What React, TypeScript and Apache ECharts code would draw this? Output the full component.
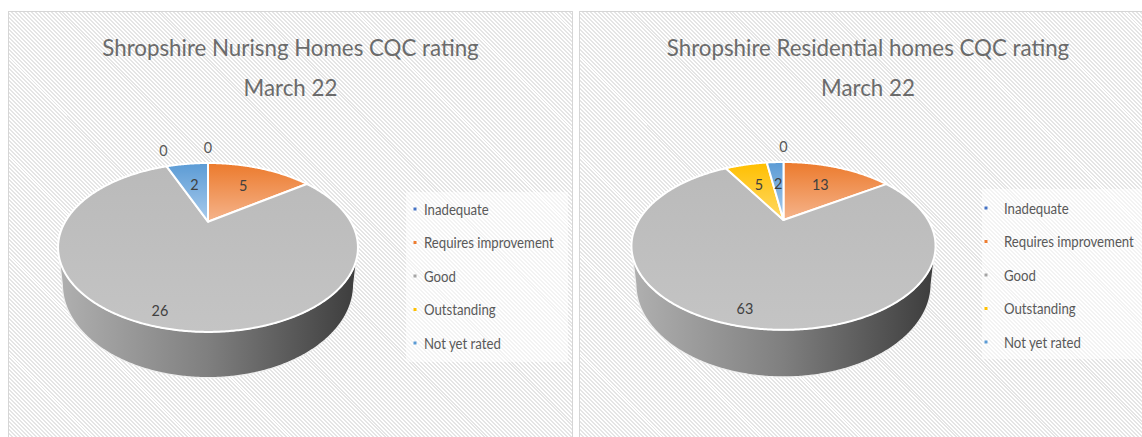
import React, { useEffect, useRef } from 'react';
import * as echarts from 'echarts';

const categories = ['Inadequate', 'Requires improvement', 'Good', 'Outstanding', 'Not yet rated'];
const nursingValues = [0, 5, 26, 0, 2];
const residentialValues = [0, 13, 63, 5, 2];
const nursingTitle = 'Shropshire Nurisng Homes CQC rating\nMarch 22';
const residentialTitle = 'Shropshire Residential homes CQC rating\nMarch 22';

const legendColors = ['#4472c4', '#ed7d31', '#a5a5a5', '#ffc000', '#5b9bd5'];
const topGradients: string[][] = [
  ['#4472c4', '#8faadc'],
  ['#ec7a2c', '#f5b48c'],
  ['#bababa', '#c4c4c4'],
  ['#ffbf00', '#ffd966'],
  ['#5b9bd5', '#a9cbec'],
];

const FONT = "Lato, 'Open Sans', sans-serif";

type Geo = { cx: number; cy: number; A: number; B: number; D: number; k: number; m: number };

const geoLeft: Geo = { cx: 208, cy: 221.7, A: 142.8, B: 76.6, D: 36, k: 0.305, m: 0.027 };
const geoRight: Geo = { cx: 783.5, cy: 220, A: 144.6, B: 75.9, D: 36.8, k: 0.309, m: 0.027 };

function project(g: Geo, r: number, t: number, h: number): number[] {
  const u = r * Math.sin(t);
  const v = r * Math.cos(t);
  const w = 1 + g.k * v + g.m * h;
  return [g.cx + (g.A * u) / w, g.cy + (-g.B * v + g.D * h) / w];
}

function arc(g: Geo, t0: number, t1: number, h: number): number[][] {
  const pts: number[][] = [];
  const n = Math.max(2, Math.ceil(((t1 - t0) * 180) / Math.PI / 0.5));
  for (let i = 0; i <= n; i++) pts.push(project(g, 1, t0 + ((t1 - t0) * i) / n, h));
  return pts;
}

function makeSeries(values: number[], g: Geo) {
  const total = values.reduce((a, b) => a + b, 0);
  const halfW = g.A / Math.sqrt(1 - g.k * g.k);
  const visStart = Math.acos(-g.k);
  const visEnd = 2 * Math.PI - visStart;
  return {
    type: 'custom',
    coordinateSystem: 'none',
    silent: true,
    data: values.map((v, i) => ({ name: categories[i], value: [v] })),
    renderItem: (params: any, api: any) => {
      const i = params.dataIndex;
      const val = api.value(0);
      let start = 0;
      for (let j = 0; j < i; j++) start += values[j];
      const a0 = (start / total) * 2 * Math.PI;
      const a1 = ((start + val) / total) * 2 * Math.PI;
      const children: any[] = [];
      if (val > 0) {
        const t0 = Math.max(a0, visStart);
        const t1 = Math.min(a1, visEnd);
        if (t1 > t0) {
          const pts = arc(g, t0, t1, 0).concat(arc(g, t0, t1, 1).reverse());
          children.push({
            type: 'polygon',
            z2: 1,
            shape: { points: pts },
            style: {
              fill: {
                type: 'linear', x: g.cx - halfW, y: 0, x2: g.cx + halfW, y2: 0, global: true,
                colorStops: [
                  { offset: 0, color: '#b0b0b0' },
                  { offset: 0.5, color: '#7f7f7f' },
                  { offset: 1, color: '#3c3c3c' },
                ],
              },
              stroke: '#eeeeee',
              lineWidth: 1.2,
            },
          });
        }
        const topPts = [project(g, 0, 0, 0)].concat(arc(g, a0, a1, 0));
        children.push({
          type: 'polygon',
          z2: 5,
          shape: { points: topPts },
          style: {
            fill: {
              type: 'linear', x: 0, y: 0, x2: 0, y2: 1,
              colorStops: [
                { offset: 0, color: topGradients[i][0] },
                { offset: 1, color: topGradients[i][1] },
              ],
            },
            stroke: '#ffffff',
            lineWidth: 2,
            lineJoin: 'round',
          },
        });
      }
      const mid = (a0 + a1) / 2;
      let pos: number[];
      if (val === 0) {
        const p = project(g, 1.1, mid, 0);
        pos = [p[0], p[1] - 12];
      } else {
        const r = 0.57 + 0.4 * (val / total);
        pos = project(g, r, mid, 0);
      }
      children.push({
        type: 'text',
        z2: 10,
        x: pos[0],
        y: pos[1],
        scaleX: 0.9,
        style: {
          text: String(val),
          fill: val === 0 ? '#595959' : '#404040',
          fontSize: 16,
          fontFamily: FONT,
          align: 'center',
          verticalAlign: 'middle',
        },
      });
      return { type: 'group', children };
    },
  };
}

function legendGraphics(x: number, textX: number, y0: number, gap: number, bg: number[]) {
  const els: any[] = [
    {
      type: 'rect',
      shape: { x: bg[0], y: bg[1], width: bg[2], height: bg[3] },
      style: { fill: 'rgba(255,255,255,0.55)' },
      z: -1,
    },
  ];
  categories.forEach((c, i) => {
    els.push({
      type: 'rect',
      shape: { x: x - 1.5, y: y0 + i * gap - 1.5, width: 3, height: 3 },
      style: { fill: legendColors[i] },
    });
    els.push({
      type: 'text',
      x: textX,
      y: y0 + i * gap,
      scaleX: 0.88,
      style: {
        text: c,
        fill: '#595959',
        fontSize: 15,
        fontFamily: FONT,
        align: 'left',
        verticalAlign: 'middle',
      },
    });
  });
  return els;
}

function titleGraphic(x: number, text: string) {
  return {
    type: 'text',
    x,
    y: 67,
    scaleX: 0.93,
    style: {
      text,
      fill: '#6b6b6b',
      fontSize: 24,
      lineHeight: 40,
      fontFamily: FONT,
      align: 'center',
      verticalAlign: 'middle',
    },
  };
}

export default function App() {
  const ref = useRef<HTMLDivElement>(null);
  useEffect(() => {
    if (!ref.current) return;
    const chart = echarts.init(ref.current, undefined, { renderer: 'svg' });
    chart.setOption({
      animation: false,
      graphic: [
        titleGraphic(290.5, nursingTitle),
        titleGraphic(868, residentialTitle),
        ...legendGraphics(415, 424, 209, 33.5, [406, 192, 162, 170]),
        ...legendGraphics(986, 1004, 208, 33.5, [982, 189, 160, 170]),
      ],
      series: [makeSeries(nursingValues, geoLeft), makeSeries(residentialValues, geoRight)],
    });
    return () => chart.dispose();
  }, []);

  const hatch =
    'repeating-linear-gradient(45deg, #ffffff 0px, #ffffff 1.4px, #e5e5e5 1.4px, #e5e5e5 2.8px)';
  return (
    <div style={{ position: 'absolute', left: 0, top: 0, width: 1142, height: 437, overflow: 'hidden', background: '#ffffff' }}>
      <div style={{ position: 'absolute', left: 8, top: 11, width: 563, height: 440, border: '1.5px solid #d6d6d6', background: hatch }} />
      <div style={{ position: 'absolute', left: 579, top: 11, width: 600, height: 440, border: '1.5px solid #d6d6d6', background: hatch }} />
      <div ref={ref} style={{ position: 'absolute', left: 0, top: 0, width: 1142, height: 437 }} />
    </div>
  );
}
